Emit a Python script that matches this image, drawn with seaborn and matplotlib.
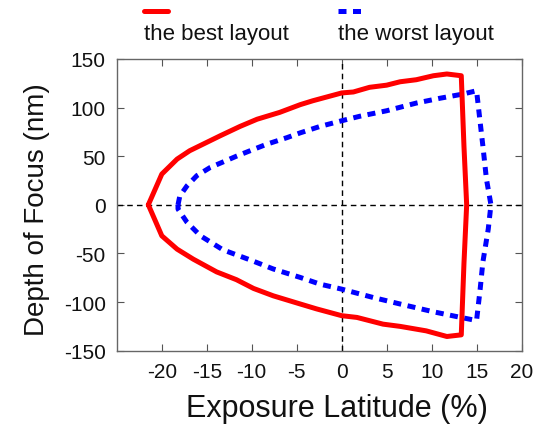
import matplotlib
matplotlib.use("Agg")
import matplotlib.pyplot as plt
from matplotlib.lines import Line2D
import seaborn as sns
import pandas as pd

# best layout process window (closed contour), exposure latitude (%) vs depth of focus (nm)
best_el = [-21.5, -20.0, -18.3, -16.9, -13.5, -11.3, -9.4, -6.9, -4.6, -3.2, 0.0, 1.3, 3.1, 5.0,
           6.5, 8.3, 10.2, 11.7, 13.3, 13.6, 13.9, 13.6, 13.3, 11.7, 9.4, 6.5, 4.6, 1.7, 0.0,
           -2.8, -4.6, -7.6, -9.8, -11.7, -13.9, -16.5, -18.3, -20.0, -21.5]
best_dof = [0, 31.6, 47, 55.6, 71, 80.6, 88, 95, 103, 107, 115, 116, 120.8, 123,
            126.5, 128.6, 132.7, 134.5, 132.7, 60, 0, -60, -133.7, -135.4, -129.6, -125, -122.7, -115.8, -114,
            -107, -102, -93.6, -86, -77, -69, -55.9, -45.6, -31.9, 0]

# worst layout process window
worst_el = [-18.2, -18.0, -17.2, -16.1, -14.6, -13.2, -11.7, -9.8, -8.3, -6.1, -4.6, -2.4, 0.0,
            2.0, 5.0, 8.3, 10.9, 13.5, 15.0, 15.4, 15.7, 16.1, 16.6, 16.3, 15.7, 15.4, 15.0,
            13.3, 10.2, 6.5, 3.5, 0.0, -2.4, -4.6, -7.6, -10.2, -13.2, -15.7, -17.2, -18.2, -18.2]
worst_dof = [0, 9, 19.5, 30, 38.5, 44, 50, 57, 62.4, 69, 74, 80.6, 86.4,
             91, 96.7, 104.6, 109.5, 113.9, 117.3, 84.8, 60.7, 26.4, 0, -25, -59, -86.7, -119,
             -115.9, -110, -102, -95.3, -86.7, -81.6, -74.7, -66, -56.6, -46.3, -31.9, -18, -4.4, 0]

labels = ["the best layout", "the worst layout"]
x_ticks = [-20, -15, -10, -5, 0, 5, 10, 15, 20]
y_ticks = [-150, -100, -50, 0, 50, 100, 150]

best = pd.DataFrame({"el": best_el, "dof": best_dof})
worst = pd.DataFrame({"el": worst_el, "dof": worst_dof})

sns.set_style("ticks")
plt.rcParams["font.family"] = ["Liberation Sans", "DejaVu Sans"]
plt.rcParams["axes.unicode_minus"] = False

fig = plt.figure(figsize=(5.41, 4.31), dpi=100)
ax = fig.add_axes([0.216, 0.184, 0.748, 0.677])

ax.axhline(0, color="black", lw=1.0, ls=(0, (4, 3)), zorder=1)
ax.axvline(0, color="black", lw=1.0, ls=(0, (4, 3)), zorder=1)

sns.lineplot(data=best, x="el", y="dof", sort=False, estimator=None, ax=ax,
             color="#ff0000", lw=3.6, zorder=3)
sns.lineplot(data=worst, x="el", y="dof", sort=False, estimator=None, ax=ax,
             color="#0000ff", lw=3.6, dashes=False, zorder=2)
ax.lines[-1].set_linestyle((0, (1.6, 1.3)))

ax.set_xlim(-25, 20)
ax.set_ylim(-150, 150)
ax.set_xticks(x_ticks)
ax.set_yticks(y_ticks)
ax.tick_params(direction="in", top=True, right=True, length=5, width=0.8,
               color="#555555", labelsize=15, labelcolor="#111111", pad=8)
for sp in ax.spines.values():
    sp.set_color("#666666")
    sp.set_linewidth(1.0)

ax.set_xlabel("Exposure Latitude (%)", fontsize=22, labelpad=9, color="#111111", x=0.545)
ax.set_ylabel("Depth of Focus (nm)", fontsize=20, labelpad=10, color="#111111", y=0.488)

# legend drawn above the axes, line sample over each label
fig.add_artist(Line2D([0.266, 0.311], [0.972, 0.972], color="#ff0000", lw=3.6))
fig.add_artist(Line2D([0.625, 0.667], [0.972, 0.972], color="#0000ff", lw=3.6,
                      ls=(0, (1.6, 1.3))))
fig.text(0.266, 0.908, labels[0], fontsize=16, va="baseline", color="#111111")
fig.text(0.625, 0.908, labels[1], fontsize=16, va="baseline", color="#111111")

fig.savefig("out.png", dpi=100, facecolor="white")
